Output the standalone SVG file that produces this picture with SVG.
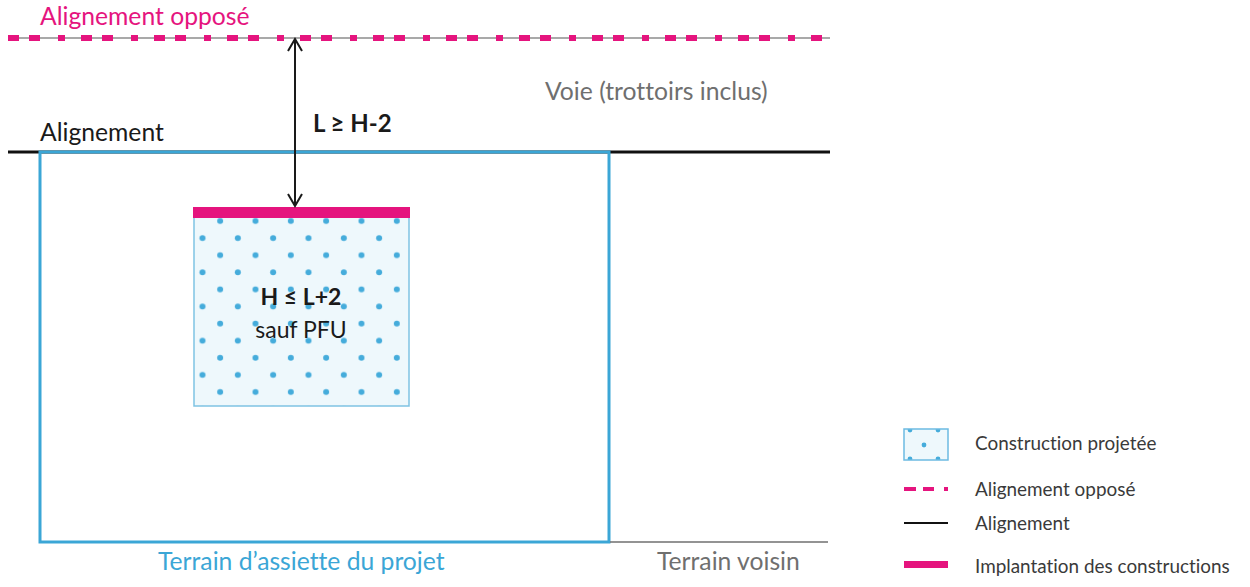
<svg xmlns="http://www.w3.org/2000/svg" width="1250" height="587" viewBox="0 0 1250 587">
<style>
text{font-family:Lato,"Open Sans",sans-serif;font-variant-ligatures:none;font-feature-settings:"liga" 0,"dlig" 0}
.pink{fill:#e5147e}
.grey{fill:#6f6f6f}
.blk{fill:#1a1a1a}
.blue{fill:#3ba6d6}
.bold{font-weight:bold}
.big{font-size:24.7px}
.lg{font-size:18.9px;fill:#3a3a3a}
</style>
<defs>
<pattern id="dots" patternUnits="userSpaceOnUse" x="193.67" y="212.45" width="35.33" height="34.2">
<circle cx="26.5" cy="8.55" r="3" fill="#45acdb"/>
<circle cx="8.83" cy="25.65" r="3" fill="#45acdb"/>
</pattern>
<pattern id="ldots" patternUnits="userSpaceOnUse" x="896" y="416" width="28" height="29">
<circle cx="14" cy="14" r="2.4" fill="#45acdb"/>
<circle cx="0" cy="0" r="2.4" fill="#45acdb"/>
<circle cx="28" cy="0" r="2.4" fill="#45acdb"/>
<circle cx="0" cy="29" r="2.4" fill="#45acdb"/>
<circle cx="28" cy="29" r="2.4" fill="#45acdb"/>
</pattern>
<marker id="chev" viewBox="0 0 16 16" refX="14" refY="8" markerWidth="16" markerHeight="16" markerUnits="userSpaceOnUse" orient="auto-start-reverse">
<path d="M2,1 L14,8 L2,15" fill="none" stroke="#1a1a1a" stroke-width="2"/>
</marker>
</defs>

<g id="alignement-oppose">
<line x1="8" y1="38" x2="830" y2="38" stroke="#555" stroke-width="1.2"/>
<line x1="8" y1="38" x2="830" y2="38" stroke="#e5147e" stroke-width="6" stroke-dasharray="11 10 11 18 7 16"/>
<text x="40" y="25" class="pink big">Alignement opposé</text>
</g>

<g id="voie">
<text x="545" y="100" class="grey big">Voie (trottoirs inclus)</text>
</g>

<g id="alignement">
<line x1="8" y1="152" x2="830" y2="152" stroke="#111" stroke-width="3"/>
<text x="40" y="141" class="blk big">Alignement</text>
</g>

<g id="terrain-assiette">
<rect x="40" y="152" width="569" height="390" fill="none" stroke="#3ba6d6" stroke-width="3"/>
<text x="158" y="570" class="blue big">Terrain d’assiette du projet</text>
</g>

<g id="terrain-voisin">
<line x1="610" y1="542" x2="828" y2="542" stroke="#6f6f6f" stroke-width="1.5"/>
<text x="657" y="570" class="grey big">Terrain voisin</text>
</g>

<g id="construction">
<rect x="194" y="212" width="215" height="194" fill="#eef8fc" stroke="#7fc3e3" stroke-width="1.5"/>
<rect x="194" y="212" width="215" height="194" fill="url(#dots)"/>
<rect x="193" y="207" width="217" height="11" fill="#e5147e"/>
<text x="301" y="305" font-size="23" text-anchor="middle" class="blk bold">H ≤ L+2</text>
<text x="301" y="338" font-size="23" text-anchor="middle" class="blk">sauf PFU</text>
</g>

<g id="connectors">
<line x1="295" y1="39" x2="295" y2="206" stroke="#1a1a1a" stroke-width="2" marker-start="url(#chev)" marker-end="url(#chev)"/>
<text x="313" y="132" font-size="24" class="blk bold">L ≥ H-2</text>
</g>

<g id="legend">
<rect x="904" y="429" width="44" height="31" fill="#eef8fc"/>
<rect x="904" y="429" width="44" height="31" fill="url(#ldots)"/>
<rect x="904" y="429" width="44" height="31" fill="none" stroke="#6cbbe2" stroke-width="1.5"/>
<text x="975" y="450" class="lg">Construction projetée</text>
<line x1="904" y1="489" x2="948" y2="489" stroke="#e5147e" stroke-width="4" stroke-dasharray="12 7 11 10 5 100"/>
<text x="975" y="496" class="lg">Alignement opposé</text>
<line x1="904" y1="523" x2="948" y2="523" stroke="#111" stroke-width="2"/>
<text x="975" y="530" class="lg">Alignement</text>
<rect x="904" y="561" width="44" height="7" fill="#e5147e"/>
<text x="975" y="573" class="lg">Implantation des constructions</text>
</g>
</svg>
